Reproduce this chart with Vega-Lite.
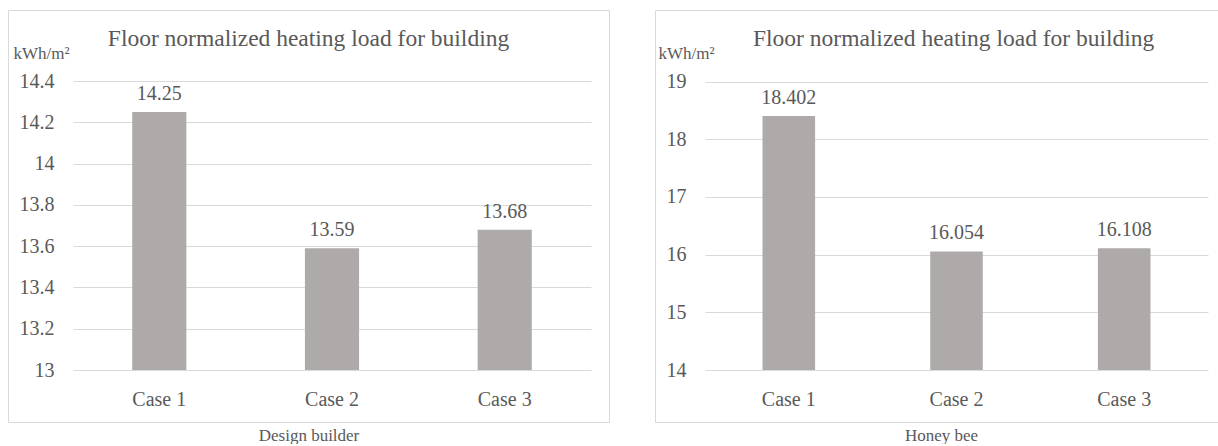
{
  "$schema": "https://vega.github.io/schema/vega-lite/v6.json",
  "autosize": {"type": "pad"},
  "padding": {"left": 7, "top": 9, "right": -6, "bottom": 0},
  "spacing": 44,
  "config": {
    "font": "Liberation Serif, serif",
    "view": {"stroke": "#D9D9D9", "strokeWidth": 1},
    "text": {"font": "Liberation Serif, serif"},
    "axis": {
      "labelFont": "Liberation Serif, serif",
      "labelColor": "#595959",
      "labelFontSize": 20,
      "domain": false,
      "ticks": false,
      "gridColor": "#D9D9D9",
      "gridWidth": 1,
      "titleFont": "Liberation Serif, serif",
      "titleColor": "#595959",
      "titleFontWeight": "normal"
    },
    "title": {
      "font": "Liberation Serif, serif",
      "fontSize": 23.5,
      "fontWeight": "normal",
      "color": "#595959"
    }
  },
  "hconcat": [
    {
      "width": 601,
      "height": 412,
      "title": {
        "text": "Floor normalized heating load for building",
        "frame": "group",
        "anchor": "middle",
        "orient": "top",
        "offset": -59,
        "baseline": "alphabetic"
      },
      "data": {
        "values": [
          {"case": "Case 1", "load": 14.25},
          {"case": "Case 2", "load": 13.59},
          {"case": "Case 3", "load": 13.68}
        ]
      },
      "encoding": {
        "x": {
          "field": "case",
          "type": "nominal",
          "sort": null,
          "scale": {"range": [65, 583], "paddingInner": 0.6865, "paddingOuter": 0.343},
          "axis": {
            "labelAngle": 0,
            "offset": -17,
            "labelPadding": 0,
            "labelBaseline": "alphabetic",
            "title": "Design builder",
            "titleFontSize": 17,
            "titleX": 300.5,
            "titleY": 35,
            "titleAlign": "center",
            "titleBaseline": "alphabetic"
          }
        },
        "y": {
          "field": "load",
          "type": "quantitative",
          "scale": {"domain": [13, 14.4], "range": [360, 71], "zero": false, "nice": false},
          "axis": {
            "values": [13, 13.2, 13.4, 13.6, 13.8, 14, 14.2, 14.4],
            "format": "~g",
            "grid": true,
            "offset": -46,
            "labelPadding": 0,
            "title": "kWh/m²",
            "titleFontSize": 17,
            "titleAngle": 0,
            "titleX": -41,
            "titleY": 48,
            "titleAlign": "left",
            "titleBaseline": "alphabetic"
          }
        }
      },
      "layer": [
        {
          "mark": {"type": "bar", "color": "#AEAAAA"},
          "encoding": {"y2": {"datum": 13}}
        },
        {
          "mark": {"type": "text", "dy": -12, "baseline": "alphabetic", "fontSize": 20, "color": "#595959"},
          "encoding": {"text": {"field": "load", "type": "quantitative", "format": ".2f"}}
        }
      ]
    },
    {
      "width": 572,
      "height": 412,
      "title": {
        "text": "Floor normalized heating load for building",
        "frame": "group",
        "anchor": "start",
        "orient": "top",
        "offset": -59,
        "dx": 98,
        "baseline": "alphabetic"
      },
      "data": {
        "values": [
          {"case": "Case 1", "load": 18.402},
          {"case": "Case 2", "load": 16.054},
          {"case": "Case 3", "load": 16.108}
        ]
      },
      "encoding": {
        "x": {
          "field": "case",
          "type": "nominal",
          "sort": null,
          "scale": {"range": [50, 553], "paddingInner": 0.6865, "paddingOuter": 0.343},
          "axis": {
            "labelAngle": 0,
            "offset": -17,
            "labelPadding": 0,
            "labelBaseline": "alphabetic",
            "title": "Honey bee",
            "titleFontSize": 17,
            "titleX": 286,
            "titleY": 35,
            "titleAlign": "center",
            "titleBaseline": "alphabetic"
          }
        },
        "y": {
          "field": "load",
          "type": "quantitative",
          "scale": {"domain": [14, 19], "range": [360, 71.5], "zero": false, "nice": false},
          "axis": {
            "values": [14, 15, 16, 17, 18, 19],
            "format": "d",
            "grid": true,
            "offset": -31,
            "labelPadding": 0,
            "title": "kWh/m²",
            "titleFontSize": 17,
            "titleAngle": 0,
            "titleX": -28,
            "titleY": 48,
            "titleAlign": "left",
            "titleBaseline": "alphabetic"
          }
        }
      },
      "layer": [
        {
          "mark": {"type": "bar", "color": "#AEAAAA"},
          "encoding": {"y2": {"datum": 14}}
        },
        {
          "mark": {"type": "text", "dy": -12, "baseline": "alphabetic", "fontSize": 20, "color": "#595959"},
          "encoding": {"text": {"field": "load", "type": "quantitative", "format": ".3f"}}
        }
      ]
    }
  ]
}
